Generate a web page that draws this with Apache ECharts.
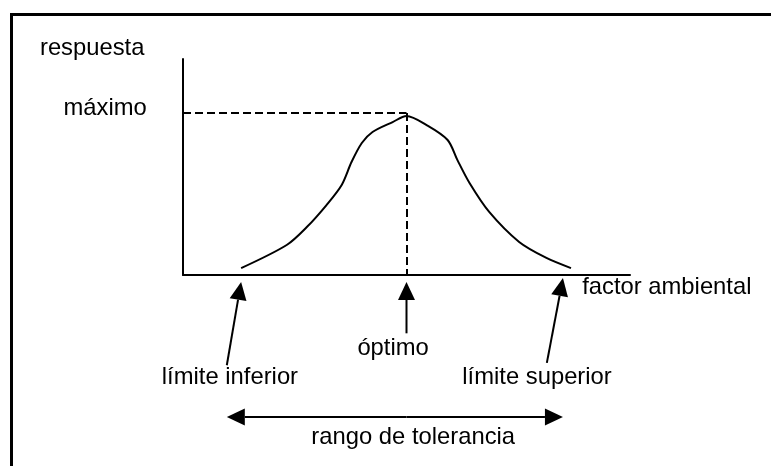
<!DOCTYPE html>
<html>
<head>
<meta charset="utf-8">
<script src="https://cdn.jsdelivr.net/npm/echarts@6/dist/echarts.min.js"></script>
<style>
  html, body { margin: 0; padding: 0; background: #fff; }
  #main { width: 771px; height: 466px; }
</style>
</head>
<body>
<div id="main"></div>
<script>
// curva de respuesta (factor ambiental vs respuesta)
const curveX = [1.30, 2.32, 2.77, 3.21, 3.55, 3.77, 4.00, 4.24, 4.69, 5.00, 5.45, 5.92, 6.14, 6.41, 6.85, 7.52, 8.13, 8.68];
const curveY = [0.32, 1.39, 2.22, 3.24, 4.17, 5.23, 6.11, 6.62, 7.08, 7.36, 6.94, 6.25, 5.32, 4.26, 2.92, 1.53, 0.79, 0.32];

const optimoX = 5;
const maximoY = 7.5;
const limiteInferiorX = 1.30;
const limiteSuperiorX = 8.50;

// textos y flechas (en coordenadas del gráfico)
const textos = [
  { text: 'respuesta', at: [-3.2, 10.5], align: 'left' },
  { text: 'máximo', at: [-0.81, 7.69], align: 'right' },
  { text: 'factor ambiental', at: [8.93, -0.56], align: 'left' },
  { text: 'óptimo', at: [4.70, -3.38], align: 'center' },
  { text: 'límite inferior', at: [1.05, -4.72], align: 'center' },
  { text: 'límite superior', at: [7.92, -4.72], align: 'center' },
  { text: 'rango de tolerancia', at: [5.15, -7.5], align: 'center' }
];
const flechas = [
  { from: [0.98, -4.18], to: [limiteInferiorX, -0.32] },
  { from: [optimoX, -2.7], to: [optimoX, -0.32] },
  { from: [8.14, -4.07], to: [limiteSuperiorX, -0.14] },
  { from: [5.0, -6.57], to: [0.98, -6.57] },
  { from: [5.0, -6.57], to: [limiteSuperiorX, -6.57] }
];

const chart = echarts.init(document.getElementById('main'));
const font = '"Liberation Sans", Arial, sans-serif';

const axisStyle = {
  type: 'value', min: 0, max: 10, interval: 2.5,
  axisLine: { show: true, onZero: false, lineStyle: { color: '#000', width: 2 } },
  axisTick: { show: false },
  axisLabel: { show: false },
  splitLine: { show: false }
};

chart.setOption({
  backgroundColor: '#fff',
  animation: false,
  grid: { left: 183, top: 59, width: 447, height: 216 },
  xAxis: Object.assign({}, axisStyle),
  yAxis: Object.assign({}, axisStyle),
  series: [{
    type: 'line',
    data: curveX.map((x, i) => [x, curveY[i]]),
    smooth: 0.3,
    symbol: 'none',
    lineStyle: { color: '#000', width: 2 },
    markLine: {
      silent: true,
      symbol: 'none',
      label: { show: false },
      lineStyle: { color: '#000', width: 2, type: [8, 4] },
      data: [
        [{ coord: [0, maximoY] }, { coord: [optimoX, maximoY] }],
        [{ coord: [optimoX, maximoY] }, { coord: [optimoX, 0] }]
      ]
    }
  }]
});

// anotaciones
const px = p => chart.convertToPixel({ gridIndex: 0 }, p);
const graphics = [{
  type: 'rect',
  shape: { x: 11.5, y: 14.5, width: 800, height: 500 },
  style: { fill: 'none', stroke: '#000', lineWidth: 3 }
}];

textos.forEach(t => {
  const p = px(t.at);
  graphics.push({
    type: 'text', x: p[0], y: p[1],
    style: { text: t.text, fill: '#000', font: '23.8px ' + font, align: t.align, verticalAlign: 'middle' }
  });
});

flechas.forEach(f => {
  const a = px(f.from), b = px(f.to);
  const dx = b[0] - a[0], dy = b[1] - a[1];
  const len = Math.sqrt(dx * dx + dy * dy);
  const ux = dx / len, uy = dy / len;
  const headLen = 18, headW = 8.5;
  const bx = b[0] - ux * headLen, by = b[1] - uy * headLen;
  graphics.push({
    type: 'line',
    shape: { x1: a[0], y1: a[1], x2: bx, y2: by },
    style: { stroke: '#000', lineWidth: 2 }
  });
  graphics.push({
    type: 'polygon',
    shape: { points: [[b[0], b[1]], [bx - uy * headW, by + ux * headW], [bx + uy * headW, by - ux * headW]] },
    style: { fill: '#000' }
  });
});

chart.setOption({ graphic: graphics });
</script>
</body>
</html>
